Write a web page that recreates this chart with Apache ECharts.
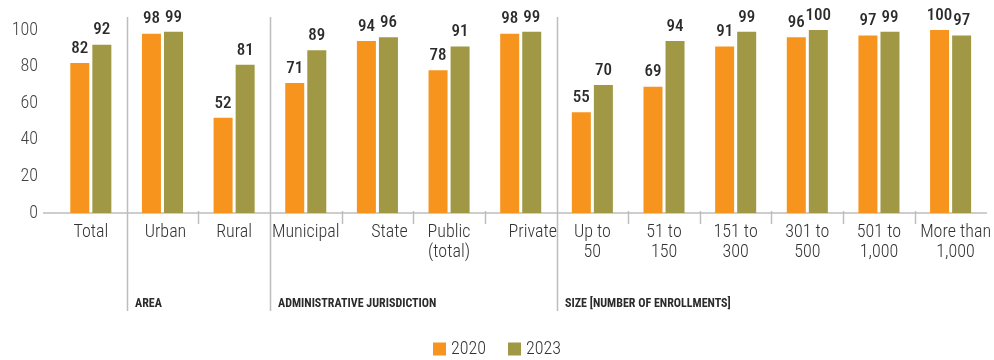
<!DOCTYPE html>
<html>
<head>
<meta charset="utf-8">
<script src="https://cdn.jsdelivr.net/npm/echarts@6/dist/echarts.min.js"></script>
<style>
  html, body { margin: 0; padding: 0; background: #fff; }
  #chart { width: 994px; height: 360px; }
</style>
</head>
<body>
<div id="chart"></div>
<script>
// Share of schools (%), by school profile
var categories = ['Total', 'Urban', 'Rural', 'Municipal', 'State', 'Public\n(total)', 'Private',
  'Up to\n50', '51 to\n150', '151 to\n300', '301 to\n500', '501 to\n1,000', 'More than\n1,000'];
var values2020 = [82, 98, 52, 71, 94, 78, 98, 55, 69, 91, 96, 97, 100];
var values2023 = [92, 99, 81, 89, 96, 91, 99, 70, 94, 99, 100, 99, 97];
var yTicks = [0, 20, 40, 60, 80, 100];

// Group headings: the category index each group starts at
var groups = [
  { start: 1, name: 'AREA' },
  { start: 3, name: 'ADMINISTRATIVE JURISDICTION' },
  { start: 7, name: 'SIZE [NUMBER OF ENROLLMENTS]' }
];

var FONT = '"Roboto Condensed", "Open Sans", sans-serif';
var ORANGE = '#F7941E';
var OLIVE = '#A09844';
var LINE = '#bdbdbd';

// A few category labels sit toward the right of their slot
var labelShift = { 1: 6, 4: 24, 6: 24, 12: 10 };

var axisData = categories.map(function (name, i) {
  if (labelShift[i]) {
    return { value: name, textStyle: { padding: [0, 0, 0, labelShift[i]] } };
  }
  return name;
});

var chart = echarts.init(document.getElementById('chart'), null, { renderer: 'canvas' });

var labelStyle = {
  show: true,
  position: 'top',
  distance: 6,
  fontFamily: FONT,
  fontSize: 17,
  fontWeight: 500,
  color: '#2b2b2b'
};

chart.setOption({
  animation: false,
  textStyle: { fontFamily: FONT },
  grid: { left: 55, right: 6, top: 30, bottom: 147, containLabel: false },
  legend: {
    bottom: -3,
    left: 'center',
    itemWidth: 13,
    itemHeight: 13,
    itemGap: 22,
    icon: 'rect',
    textStyle: { fontFamily: FONT, fontSize: 18, fontWeight: 300, color: '#333' },
    data: ['2020', '2023']
  },
  xAxis: {
    type: 'category',
    data: axisData,
    axisLine: { show: true, lineStyle: { color: LINE, width: 1.5 } },
    axisTick: { show: false },
    axisLabel: {
      fontFamily: FONT,
      fontSize: 18,
      fontWeight: 300,
      color: '#333',
      margin: 9,
      lineHeight: 20,
      interval: 0
    }
  },
  yAxis: {
    type: 'value',
    min: 0,
    max: 100,
    interval: 20,
    axisLine: { show: false },
    axisTick: { show: false },
    splitLine: { show: false },
    axisLabel: {
      fontFamily: FONT,
      fontSize: 18,
      fontWeight: 300,
      color: '#444',
      margin: 17,
      customValues: yTicks
    }
  },
  series: [
    {
      name: '2020',
      type: 'bar',
      data: values2020,
      barWidth: 19,
      barGap: '16%',
      itemStyle: { color: ORANGE },
      label: labelStyle
    },
    {
      name: '2023',
      type: 'bar',
      data: values2023,
      barWidth: 19,
      itemStyle: { color: OLIVE },
      label: labelStyle
    }
  ]
});

// Boundary ticks, group separators and group headings, placed from the axis scale
function drawDecorations() {
  var c0 = chart.convertToPixel({ xAxisIndex: 0 }, 0);
  var c1 = chart.convertToPixel({ xAxisIndex: 0 }, 1);
  var step = c1 - c0;
  var y0 = chart.convertToPixel({ yAxisIndex: 0 }, 0);
  var left = c0 - step / 2;
  var groupStarts = groups.map(function (g) { return g.start; });
  var elements = [];

  // axis line runs a little past the first category
  elements.push({
    type: 'line',
    shape: { x1: left - 12, y1: y0, x2: left, y2: y0 },
    style: { stroke: LINE, lineWidth: 1.5 },
    silent: true
  });

  for (var i = 1; i < categories.length; i++) {
    var x = Math.round(left + i * step) + 0.5;
    if (groupStarts.indexOf(i) >= 0) {
      elements.push({
        type: 'line',
        shape: { x1: x, y1: 17, x2: x, y2: 311 },
        style: { stroke: LINE, lineWidth: 1.5 },
        silent: true
      });
    } else {
      elements.push({
        type: 'line',
        shape: { x1: x, y1: y0 - 2, x2: x, y2: y0 + 11 },
        style: { stroke: LINE, lineWidth: 1.5 },
        silent: true
      });
    }
  }

  groups.forEach(function (g) {
    var x = Math.round(left + g.start * step);
    elements.push({
      type: 'text',
      x: x + 8,
      y: 298,
      style: {
        text: g.name,
        fontFamily: FONT,
        fontSize: 12,
        fontWeight: 'bold',
        fill: '#2b2b2b',
        textVerticalAlign: 'top'
      },
      silent: true
    });
  });

  chart.setOption({ graphic: { elements: elements } });
}

drawDecorations();
</script>
</body>
</html>
